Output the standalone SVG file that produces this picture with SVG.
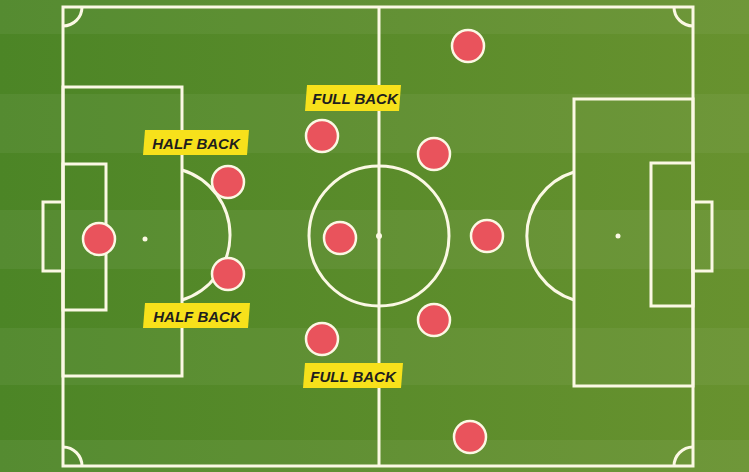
<svg xmlns="http://www.w3.org/2000/svg" width="749" height="472" viewBox="0 0 749 472">
  <defs>
    <linearGradient id="grass" x1="0" y1="0" x2="1" y2="0">
      <stop offset="0" stop-color="#4c8526"/>
      <stop offset="1" stop-color="#68922f"/>
    </linearGradient>
    <style>
      .ln { fill: none; stroke: #fbf8e4; stroke-width: 3; }
      .stripe { fill: #ffffff; fill-opacity: 0.05; }
      .player { fill: #e9535c; stroke: #fbf8e4; stroke-width: 2.5; }
      .tag { fill: #f7e11b; }
      .tagtxt { font-family: "Liberation Sans", Arial, sans-serif; font-weight: bold; font-style: italic; font-size: 15px; fill: #1e1e1e; text-anchor: middle; }
    </style>
  </defs>

  <!-- grass -->
  <rect x="0" y="0" width="749" height="472" fill="url(#grass)"/>
  <g id="stripes">
    <rect class="stripe" x="0" y="0" width="749" height="34"/>
    <rect class="stripe" x="0" y="94" width="749" height="59"/>
    <rect class="stripe" x="0" y="210" width="749" height="59"/>
    <rect class="stripe" x="0" y="328" width="749" height="57"/>
    <rect class="stripe" x="0" y="440" width="749" height="32"/>
  </g>

  <!-- pitch markings -->
  <g id="pitch">
    <rect class="ln" x="63" y="7" width="630" height="459"/>
    <line class="ln" x1="379" y1="7" x2="379" y2="466"/>
    <circle class="ln" cx="379" cy="236" r="70"/>
    <circle cx="379" cy="236" r="3" fill="#fbf8e4"/>
    <!-- corners -->
    <path class="ln" d="M63 26 A19 19 0 0 0 82 7"/>
    <path class="ln" d="M674 7 A19 19 0 0 0 693 26"/>
    <path class="ln" d="M63 447 A19 19 0 0 1 82 466"/>
    <path class="ln" d="M674 466 A19 19 0 0 1 693 447"/>
    <!-- left end -->
    <rect class="ln" x="63" y="87" width="119" height="289"/>
    <rect class="ln" x="63" y="164" width="43" height="146"/>
    <rect class="ln" x="43" y="202" width="20" height="69"/>
    <circle cx="145" cy="239" r="2.5" fill="#fbf8e4"/>
    <path class="ln" d="M182 170 A68 68 0 0 1 182 300"/>
    <!-- right end -->
    <rect class="ln" x="574" y="99" width="119" height="287"/>
    <rect class="ln" x="651" y="163" width="42" height="143"/>
    <rect class="ln" x="693" y="202" width="19" height="69"/>
    <circle cx="618" cy="236" r="2.5" fill="#fbf8e4"/>
    <path class="ln" d="M574 172 A67 67 0 0 0 574 300"/>
  </g>

  <!-- players -->
  <g id="players">
    <circle id="p1" class="player" cx="99" cy="239" r="16"/>
    <circle id="p2" class="player" cx="228" cy="182" r="16"/>
    <circle id="p3" class="player" cx="228" cy="274" r="16"/>
    <circle id="p4" class="player" cx="322" cy="136" r="16"/>
    <circle id="p5" class="player" cx="340" cy="238" r="16"/>
    <circle id="p6" class="player" cx="322" cy="339" r="16"/>
    <circle id="p7" class="player" cx="468" cy="46" r="16"/>
    <circle id="p8" class="player" cx="434" cy="154" r="16"/>
    <circle id="p9" class="player" cx="487" cy="236" r="16"/>
    <circle id="p10" class="player" cx="434" cy="320" r="16"/>
    <circle id="p11" class="player" cx="470" cy="437" r="16"/>
  </g>

  <!-- labels -->
  <g id="label-half-back-top">
    <polygon class="tag" points="145,130 249,130 247,155 143,155"/>
    <text class="tagtxt" x="196" y="148.5">HALF BACK</text>
  </g>
  <g id="label-full-back-top">
    <polygon class="tag" points="307,85 401,85 399,111 305,111"/>
    <text class="tagtxt" x="355" y="103.5">FULL BACK</text>
  </g>
  <g id="label-half-back-bottom">
    <polygon class="tag" points="145,303 250,303 248,328 143,328"/>
    <text class="tagtxt" x="197" y="321.5">HALF BACK</text>
  </g>
  <g id="label-full-back-bottom">
    <polygon class="tag" points="305,363 403,363 401,388 303,388"/>
    <text class="tagtxt" x="353" y="381.5">FULL BACK</text>
  </g>
</svg>
